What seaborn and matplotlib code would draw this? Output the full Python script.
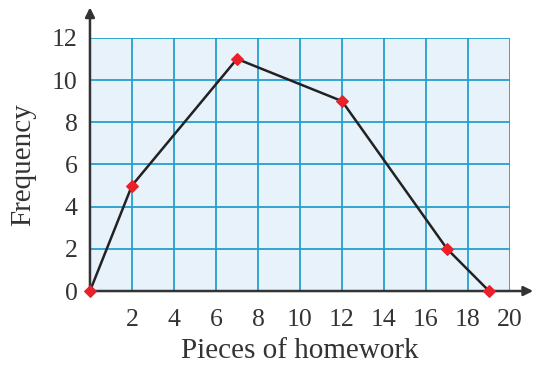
import matplotlib
matplotlib.use("Agg")
import matplotlib.pyplot as plt
import seaborn as sns
import pandas as pd

# Frequency polygon data
pieces = [0, 2, 7, 12, 17, 19]
frequency = [0, 5, 11, 9, 2, 0]
x_ticks = [2, 4, 6, 8, 10, 12, 14, 16, 18, 20]
y_ticks = [0, 2, 4, 6, 8, 10, 12]

sns.set_theme(style="white")
plt.rcParams["font.family"] = ["Liberation Serif", "DejaVu Serif"]

df = pd.DataFrame({"Pieces of homework": pieces, "Frequency": frequency})

fig = plt.figure(figsize=(5.42, 3.67), dpi=100)
ax = fig.add_axes([0.166, 0.207, 0.775, 0.690])
ax.set_facecolor("#e8f2fb")

grid_col = "#22a0cc"
for xv in x_ticks:
    ax.axvline(xv, color=grid_col, lw=1.3, zorder=1)
for yv in y_ticks[1:]:
    ax.axhline(yv, color=grid_col, lw=1.3, zorder=1)

sns.lineplot(data=df, x="Pieces of homework", y="Frequency", ax=ax,
             color="#222222", lw=1.8, marker="D", markersize=6,
             markerfacecolor="#e8212a", markeredgecolor="#e8212a",
             zorder=5, clip_on=False)

ax.set_xlim(0, 20)
ax.set_ylim(0, 12)
ax.set_xticks(x_ticks)
ax.set_yticks(y_ticks)
for s in ax.spines.values():
    s.set_visible(False)

ax.tick_params(axis="both", direction="out", length=6, width=1.2,
               color="#333333", labelsize=18.5, labelcolor="#333333", pad=3)
ax.tick_params(axis="x", pad=7)

# Axes with arrowheads
ax.annotate("", xy=(1.055, 0), xytext=(0, 0), xycoords="axes fraction",
            arrowprops=dict(arrowstyle="-|>", color="#333333", lw=1.8,
                            mutation_scale=14, shrinkA=0, shrinkB=0), zorder=4)
ax.annotate("", xy=(0, 1.12), xytext=(0, 0), xycoords="axes fraction",
            arrowprops=dict(arrowstyle="-|>", color="#333333", lw=1.8,
                            mutation_scale=14, shrinkA=0, shrinkB=0), zorder=4)

ax.set_xlabel("Pieces of homework", fontsize=21, color="#333333", labelpad=5)
ax.set_ylabel("Frequency", fontsize=21, color="#333333", labelpad=11)

fig.savefig("out.png", dpi=100)
